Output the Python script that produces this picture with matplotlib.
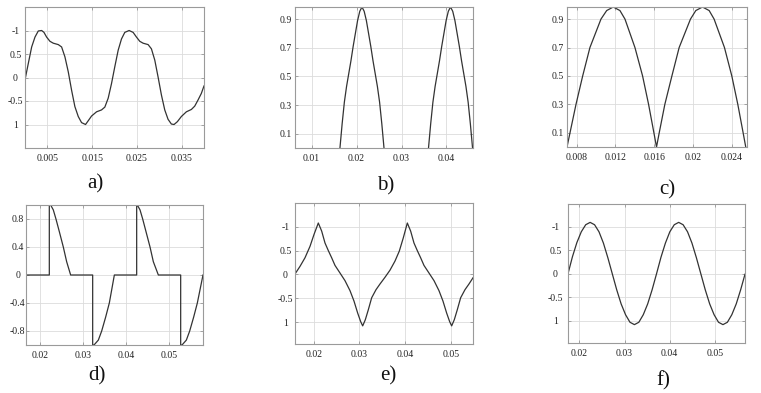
import matplotlib
matplotlib.use('Agg')
import matplotlib.pyplot as plt

# a) distorted wave
a_t = [0, 0.00074, 0.00149, 0.00223, 0.00297, 0.00372, 0.00424, 0.00483, 0.00558, 0.00632,
       0.00744, 0.00818, 0.00892, 0.00967, 0.01041, 0.01115, 0.0119, 0.01264, 0.01353, 0.01413,
       0.01487, 0.01599, 0.0171, 0.01784, 0.01859, 0.01933, 0.02007, 0.02082, 0.02156, 0.0223,
       0.02327, 0.02416, 0.02491, 0.02565, 0.02639, 0.02751, 0.02825, 0.029, 0.02974, 0.03048,
       0.03123, 0.03197, 0.03271, 0.03331, 0.03405, 0.03494, 0.03606, 0.03718, 0.03792, 0.03866,
       0.0394, 0.04]
a_v = [-0.05, 0.3, 0.65, 0.86, 0.99, 1.0, 0.96, 0.86, 0.77, 0.73,
       0.70, 0.65, 0.44, 0.12, -0.27, -0.62, -0.83, -0.96, -1.0, -0.92,
       -0.82, -0.73, -0.69, -0.63, -0.44, -0.13, 0.23, 0.58, 0.82, 0.96,
       1.0, 0.96, 0.86, 0.77, 0.73, 0.70, 0.61, 0.37, 0.01, -0.37,
       -0.69, -0.89, -0.99, -1.0, -0.94, -0.83, -0.73, -0.68, -0.61, -0.48,
       -0.34, -0.18]

# b) half-wave lobes (two lobes, zero in between sits on the axis)
b1_t = [0.0163, 0.01679, 0.01728, 0.01777, 0.01826, 0.01875, 0.01924, 0.01973, 0.02022, 0.02071,
        0.0212, 0.02169, 0.02218, 0.02267, 0.02316, 0.02365, 0.02414, 0.02463, 0.02512, 0.02561,
        0.0261]
b2_t = [0.036, 0.03649, 0.03698, 0.03747, 0.03796, 0.03845, 0.03894, 0.03943, 0.03992, 0.04041,
        0.0409, 0.04139, 0.04188, 0.04237, 0.04286, 0.04335, 0.04384, 0.04433, 0.04482, 0.04531,
        0.0458]
b1_v = [0, 0.17, 0.32, 0.43, 0.52, 0.61, 0.71, 0.8, 0.89, 0.955,
        0.985, 0.955, 0.89, 0.8, 0.71, 0.61, 0.52, 0.43, 0.32, 0.17, 0]
b2_v = [0, 0.17, 0.32, 0.43, 0.52, 0.61, 0.71, 0.8, 0.89, 0.955,
        0.985, 0.955, 0.89, 0.8, 0.71, 0.61, 0.52, 0.43, 0.32, 0.17, 0]

# c) full-wave lobes
c_t = [0.007, 0.00731, 0.00793, 0.00862, 0.00937, 0.01051, 0.0111, 0.01178, 0.01247, 0.01299,
       0.01402, 0.01481, 0.01543, 0.01598, 0.01625, 0.01653, 0.01711, 0.01784, 0.01859, 0.01976,
       0.02031, 0.021, 0.02169, 0.0222, 0.02327, 0.02403, 0.02465, 0.0252, 0.02547]
c_v = [0, 0.1, 0.3, 0.5, 0.7, 0.9, 0.96, 0.985, 0.96, 0.9,
       0.7, 0.5, 0.3, 0.1, 0, 0.1, 0.3, 0.5, 0.7, 0.9,
       0.96, 0.985, 0.96, 0.9, 0.7, 0.5, 0.3, 0.1, 0]

# d) chopped wave
d_t = [0.01675, 0.02218, 0.02218, 0.02249, 0.02311, 0.02373, 0.02451, 0.02544, 0.02622, 0.02715,
       0.03228, 0.03228, 0.03259, 0.0336, 0.03438, 0.03531, 0.03616, 0.03733,
       0.04253, 0.04253, 0.04268, 0.04331, 0.04393, 0.0447, 0.04564, 0.04641, 0.04758,
       0.05278, 0.05278, 0.05309, 0.0541, 0.05488, 0.05581, 0.05666, 0.05798]
d_v = [0, 0, 1, 1, 0.93, 0.8, 0.62, 0.4, 0.19, 0,
       0, -1, -1, -0.93, -0.8, -0.6, -0.4, 0,
       0, 1, 1, 0.93, 0.8, 0.62, 0.4, 0.19, 0,
       0, -1, -1, -0.93, -0.8, -0.6, -0.4, 0]

# e) cusp wave
e_t = [0.01586, 0.01696, 0.01805, 0.01915, 0.02003, 0.02097, 0.02171, 0.02244, 0.02317, 0.0239,
       0.02463, 0.02573, 0.02682, 0.02792, 0.0288, 0.0296, 0.03026, 0.0307, 0.03128, 0.03194,
       0.03267, 0.03362, 0.0345, 0.03559, 0.03669, 0.03778, 0.03873, 0.03961, 0.04049, 0.04122,
       0.04195, 0.04268, 0.04341, 0.04414, 0.04524, 0.04634, 0.04743, 0.04831, 0.04911, 0.04977,
       0.05021, 0.05079, 0.05145, 0.05218, 0.05313, 0.05401, 0.05489]
e_v = [0.01, 0.17, 0.35, 0.59, 0.84, 1.08, 0.91, 0.66, 0.50, 0.35,
       0.19, 0.03, -0.13, -0.34, -0.56, -0.81, -0.99, -1.08, -0.95, -0.74,
       -0.49, -0.32, -0.20, -0.06, 0.09, 0.28, 0.49, 0.77, 1.08, 0.91,
       0.66, 0.50, 0.35, 0.19, 0.03, -0.13, -0.34, -0.56, -0.81, -0.99,
       -1.08, -0.95, -0.74, -0.49, -0.32, -0.20, -0.07]

# f) sine wave
f_t = [0.01749, 0.01847, 0.01945, 0.02043, 0.02141, 0.02239, 0.02337, 0.02435, 0.02533, 0.02631,
       0.02729, 0.02827, 0.02925, 0.03023, 0.03121, 0.03219, 0.03317, 0.03415, 0.03513, 0.03611,
       0.03709, 0.03807, 0.03905, 0.04003, 0.04101, 0.04199, 0.04297, 0.04395, 0.04493, 0.04591,
       0.04689, 0.04787, 0.04885, 0.04983, 0.05081, 0.05179, 0.05277, 0.05375, 0.05473, 0.05571,
       0.05667]
f_v = [0, 0.36, 0.66, 0.89, 1.04, 1.09, 1.04, 0.89, 0.65, 0.34,
       0, -0.34, -0.64, -0.87, -1.03, -1.08, -1.03, -0.87, -0.64, -0.34,
       0, 0.35, 0.65, 0.89, 1.04, 1.09, 1.04, 0.89, 0.65, 0.34,
       0, -0.34, -0.64, -0.87, -1.03, -1.08, -1.03, -0.87, -0.64, -0.34,
       -0.01]

# tick values / labels
a_xticks = [0.005, 0.015, 0.025, 0.035]
a_xlabels = ['0.005', '0.015', '0.025', '0.035']
b_xticks = [0.01, 0.02, 0.03, 0.04]
b_xlabels = ['0.01', '0.02', '0.03', '0.04']
c_xticks = [0.008, 0.012, 0.016, 0.02, 0.024]
c_xlabels = ['0.008', '0.012', '0.016', '0.02', '0.024']
def_xticks = [0.02, 0.03, 0.04, 0.05]
def_xlabels = ['0.02', '0.03', '0.04', '0.05']
wave_yticks = [1, 0.5, 0, -0.5, -1]
wave_ylabels = ['-1', '0.5', '0', '-0.5', '1']
lobe_yticks = [0.9, 0.7, 0.5, 0.3, 0.1]
lobe_ylabels = ['0.9', '0.7', '0.5', '0.3', '0.1']
d_yticks = [0.8, 0.4, 0, -0.4, -0.8]
d_ylabels = ['0.8', '0.4', '0', '-0.4', '-0.8']

W, H = 761, 393
fig = plt.figure(figsize=(W / 100, H / 100), dpi=100)
fig.patch.set_facecolor('white')
plt.rcParams['font.family'] = ['Liberation Serif', 'DejaVu Serif']


def panel(box, series, xlim, ylim, xt, xl, yt, yl, letter, lpos, center=True, ypad=6.8):
    l, top, r, b = box
    ax = fig.add_axes([l / W, 1 - b / H, (r - l) / W, (b - top) / H])
    for t, v in series:
        ax.plot(t, v, color='#333333', lw=0.9)
    ax.set_xlim(*xlim)
    ax.set_ylim(*ylim)
    ax.set_xticks(xt)
    ax.set_xticklabels(xl)
    ax.set_yticks(yt)
    ax.set_yticklabels(yl)
    ax.grid(True, color='#dcdcdc', lw=0.6)
    ax.set_axisbelow(True)
    for s in ax.spines.values():
        s.set_color('#9a9a9a')
        s.set_linewidth(0.8)
    ax.tick_params(direction='in', length=2, width=0.5, color='#888888',
                   top=True, right=True, labelsize=7, labelcolor='#222222')
    ax.tick_params(axis='x', pad=4)
    if center:
        ax.tick_params(axis='y', pad=ypad)
        for lab in ax.get_yticklabels():
            lab.set_horizontalalignment('center')
    else:
        ax.tick_params(axis='y', pad=2.5)
    fig.text(lpos[0] / W, 1 - lpos[1] / H, letter, fontsize=15,
             ha='center', va='center', color='#111111')
    return ax


panel((25, 7, 204, 148), [(a_t, a_v)], (0, 0.04), (-1.5, 1.5),
      a_xticks, a_xlabels, wave_yticks, wave_ylabels, 'a)', (95, 184))
panel((295, 7, 473, 148), [(b1_t, b1_v), (b2_t, b2_v)], (0.0063, 0.0459), (0, 0.985),
      b_xticks, b_xlabels, lobe_yticks, lobe_ylabels, 'b)', (386, 186), center=False)
panel((567, 7, 747, 147), [(c_t, c_v)], (0.007, 0.0256), (0, 0.985),
      c_xticks, c_xlabels, lobe_yticks, lobe_ylabels, 'c)', (667, 190), center=False)
panel((26, 205, 203, 345), [(d_t, d_v)], (0.01675, 0.05798), (-1, 1),
      def_xticks, def_xlabels, d_yticks, d_ylabels, 'd)', (97, 376), ypad=6)
panel((295, 203, 473, 344), [(e_t, e_v)], (0.01586, 0.05489), (-1.46, 1.5),
      def_xticks, def_xlabels, wave_yticks, wave_ylabels, 'e)', (388, 376))
panel((568, 204, 745, 343), [(f_t, f_v)], (0.01749, 0.05667), (-1.47, 1.48),
      def_xticks, def_xlabels, wave_yticks, wave_ylabels, 'f)', (663, 381), ypad=9)

fig.savefig('out.png', dpi=100)
